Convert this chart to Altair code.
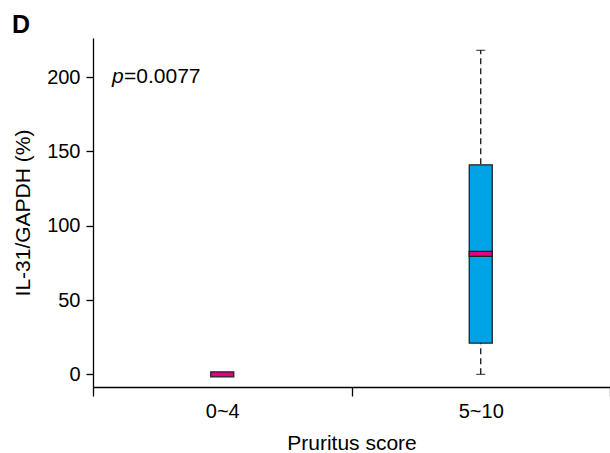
import altair as alt
import pandas as pd

groups = ["0~4", "5~10"]
q1 = [0, 21]
q3 = [0, 141]
median = [0, 81]
low = [0, 0]
high = [0, 218]

df = pd.DataFrame({"group": groups, "q1": q1, "q3": q3, "median": median,
                   "low": low, "high": high})

BLUE = "#00A3E6"
MAG = "#E4007F"
FONT = "Liberation Sans"

x = alt.X("group:N", sort=groups, title="Pruritus score",
          scale=alt.Scale(paddingInner=0, paddingOuter=0),
          axis=alt.Axis(labelAngle=0, tickBand="extent", tickSize=9, labelPadding=5,
                        titlePadding=11, labelFontSize=20, titleFontSize=21))
yscale = alt.Scale(domain=[-8.5, 226.3], nice=False, zero=False)
yaxis = alt.Axis(values=[0, 50, 100, 150, 200], tickSize=7, labelPadding=6,
                 titlePadding=13, grid=False, labelFontSize=20, titleFontSize=21)

base = alt.Chart(df).encode(x=x)

whisk_df = base.transform_filter("datum.high > datum.low")

whisker = whisk_df.mark_rule(color="black", strokeWidth=1.2, strokeDash=[6, 4]).encode(
    y=alt.Y("low:Q", scale=yscale, axis=yaxis, title="IL-31/GAPDH (%)"),
    y2="high:Q")
cap_hi = whisk_df.mark_tick(color="black", size=9, thickness=1.2, orient="horizontal").encode(
    y=alt.Y("high:Q", scale=yscale))
cap_lo = whisk_df.mark_tick(color="black", size=9, thickness=1.2, orient="horizontal").encode(
    y=alt.Y("low:Q", scale=yscale))
box = whisk_df.mark_bar(width=23, fill=BLUE, stroke="#222222", strokeWidth=1.3).encode(
    y=alt.Y("q1:Q", scale=yscale), y2="q3:Q")
med = base.mark_tick(size=23, thickness=5, orient="horizontal", fill=MAG, stroke="#222222",
                     strokeWidth=1.3, opacity=1).encode(
    y=alt.Y("median:Q", scale=yscale))

ann = pd.DataFrame({"v": [200]})
p_txt = alt.Chart(ann).mark_text(text="p", fontStyle="italic", fontSize=21, font=FONT,
                                 align="left", baseline="middle", color="black").encode(
    x=alt.value(19), y=alt.Y("v:Q", scale=yscale))
p_val = alt.Chart(ann).mark_text(text="=0.0077", fontSize=21, font=FONT,
                                 align="left", baseline="middle", color="black").encode(
    x=alt.value(31), y=alt.Y("v:Q", scale=yscale))
d_lab = alt.Chart(ann).mark_text(text="D", fontSize=25, font=FONT, fontWeight="bold",
                                 align="left", baseline="alphabetic", color="black").encode(
    x=alt.value(-81), y=alt.value(-5))

chart = alt.layer(whisker, cap_hi, cap_lo, box, med, p_txt, p_val, d_lab).properties(
    width=517, height=349,
    autosize=alt.AutoSizeParams(type="none"),
    padding={"left": 93, "top": 38, "right": 0, "bottom": 66},
).configure_view(stroke=None).configure_axis(
    domainColor="black", domainWidth=1.3, tickColor="black", tickWidth=1.3,
    labelFont=FONT, titleFont=FONT,
    labelColor="black", titleColor="black", titleFontWeight="normal"
)

chart.save("out.html", embed_options={"renderer": "svg", "actions": False})
